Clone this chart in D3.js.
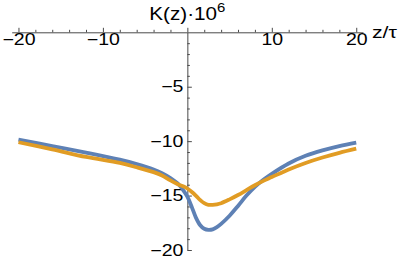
<!DOCTYPE html>
<html><head><meta charset="utf-8">
<script src="https://cdn.jsdelivr.net/npm/d3@7"></script>
<style>body{margin:0;background:#fff;}svg{display:block;}</style>
</head><body>
<svg id="c" width="409" height="263"></svg>
<script>
const zValues = [-20,-16,-12,-8,-6,-4,-3,-2,-1,-0.5,0,0.5,1,1.5,2,2.5,3,3.5,4,5,6,7,8,9,10,12,14,16,18,20];
const blueValues = [-9.85,-10.45,-11.05,-11.7,-12.1,-12.6,-12.95,-13.4,-14.0,-14.5,-15.1,-16.0,-17.0,-17.7,-18.05,-18.15,-18.1,-17.9,-17.6,-16.85,-15.95,-15.0,-14.2,-13.55,-13.0,-12.05,-11.35,-10.85,-10.45,-10.14];
const orangeValues = [-10.1,-10.75,-11.45,-12.0,-12.4,-12.85,-13.15,-13.6,-14.0,-14.15,-14.35,-14.65,-15.0,-15.4,-15.7,-15.85,-15.85,-15.8,-15.7,-15.35,-14.95,-14.5,-14.05,-13.65,-13.3,-12.6,-12.0,-11.5,-11.07,-10.69];
const xMajorTicks = [-20,-10,10,20];
const xMinorTicks = [-18,-16,-14,-12,-8,-6,-4,-2,2,4,6,8,12,14,16,18];
const yMajorTicks = [-5,-10,-15,-20];
const yMinorTicks = [-1,-2,-3,-4,-6,-7,-8,-9,-11,-12,-13,-14,-16,-17,-18,-19];

const svg = d3.select("#c");
const x = d3.scaleLinear().domain([-20.8, 20.8]).range([11.7, 363]);
const y = d3.scaleLinear().domain([-20, 0]).range([250, 32.3]);
const axisColor = "#4a4a4a";
const font = "'Liberation Sans', Arial, sans-serif";

// X axis
const gx = svg.append("g").attr("transform", `translate(0,${y(0)})`);
gx.call(d3.axisBottom(x).tickValues(xMajorTicks.concat([0])).tickSize(-4.5).tickSizeOuter(0).tickPadding(1.5)
  .tickFormat(d => d === 0 ? "" : d3.format("")(d).replace("-", "\u2212")));
const gx2 = svg.append("g").attr("transform", `translate(0,${y(0)})`);
gx2.call(d3.axisBottom(x).tickValues(xMinorTicks).tickSize(-2.5).tickSizeOuter(0).tickFormat(""));
gx2.select(".domain").remove();

// Y axis
const gy = svg.append("g").attr("transform", `translate(${x(0)},0)`);
gy.call(d3.axisLeft(y).tickValues(yMajorTicks).tickSize(-4.5).tickSizeOuter(0).tickPadding(4)
  .tickFormat(d => String(d).replace("-", "\u2212")));
const gy2 = svg.append("g").attr("transform", `translate(${x(0)},0)`);
gy2.call(d3.axisLeft(y).tickValues(yMinorTicks).tickSize(-2.5).tickSizeOuter(0).tickFormat(""));
gy2.select(".domain").remove();

[gx, gx2, gy, gy2].forEach(g => {
  g.selectAll("path.domain").attr("stroke", axisColor).attr("stroke-width", 1);
  g.selectAll(".tick line").attr("stroke", axisColor).attr("stroke-width", 1);
});
gx.selectAll(".tick text").attr("font-family", font).attr("font-size", 16).attr("fill", "#000")
  .attr("transform", "scale(1.22,1)");
gy.selectAll(".tick text").attr("font-family", font).attr("font-size", 16).attr("fill", "#000")
  .attr("x", -3.2).attr("transform", "scale(1.22,1)");

// Lines
const line = d3.line().x((d, i) => x(zValues[i])).y(d => y(d)).curve(d3.curveCatmullRom.alpha(0.5));
svg.append("path").datum(blueValues).attr("d", line).attr("fill", "none")
  .attr("stroke", "#5E81B5").attr("stroke-width", 3.8);
svg.append("path").datum(orangeValues).attr("d", line).attr("fill", "none")
  .attr("stroke", "#E19C24").attr("stroke-width", 3.8);

// Axis labels
const lab = svg.append("text").attr("font-family", font).attr("font-size", 18).attr("fill", "#000")
  .attr("text-anchor", "middle")
  .attr("transform", `translate(${x(0)},20) scale(1.15,1)`);
lab.append("tspan").text("K(z)\u00b710");
lab.append("tspan").attr("font-size", 13).attr("dy", -8).text("6");

svg.append("text").attr("font-family", font).attr("font-size", 17).attr("fill", "#000")
  .attr("transform", `translate(372,38) scale(1.25,1)`).text("z/\u03c4");
</script>
</body></html>
